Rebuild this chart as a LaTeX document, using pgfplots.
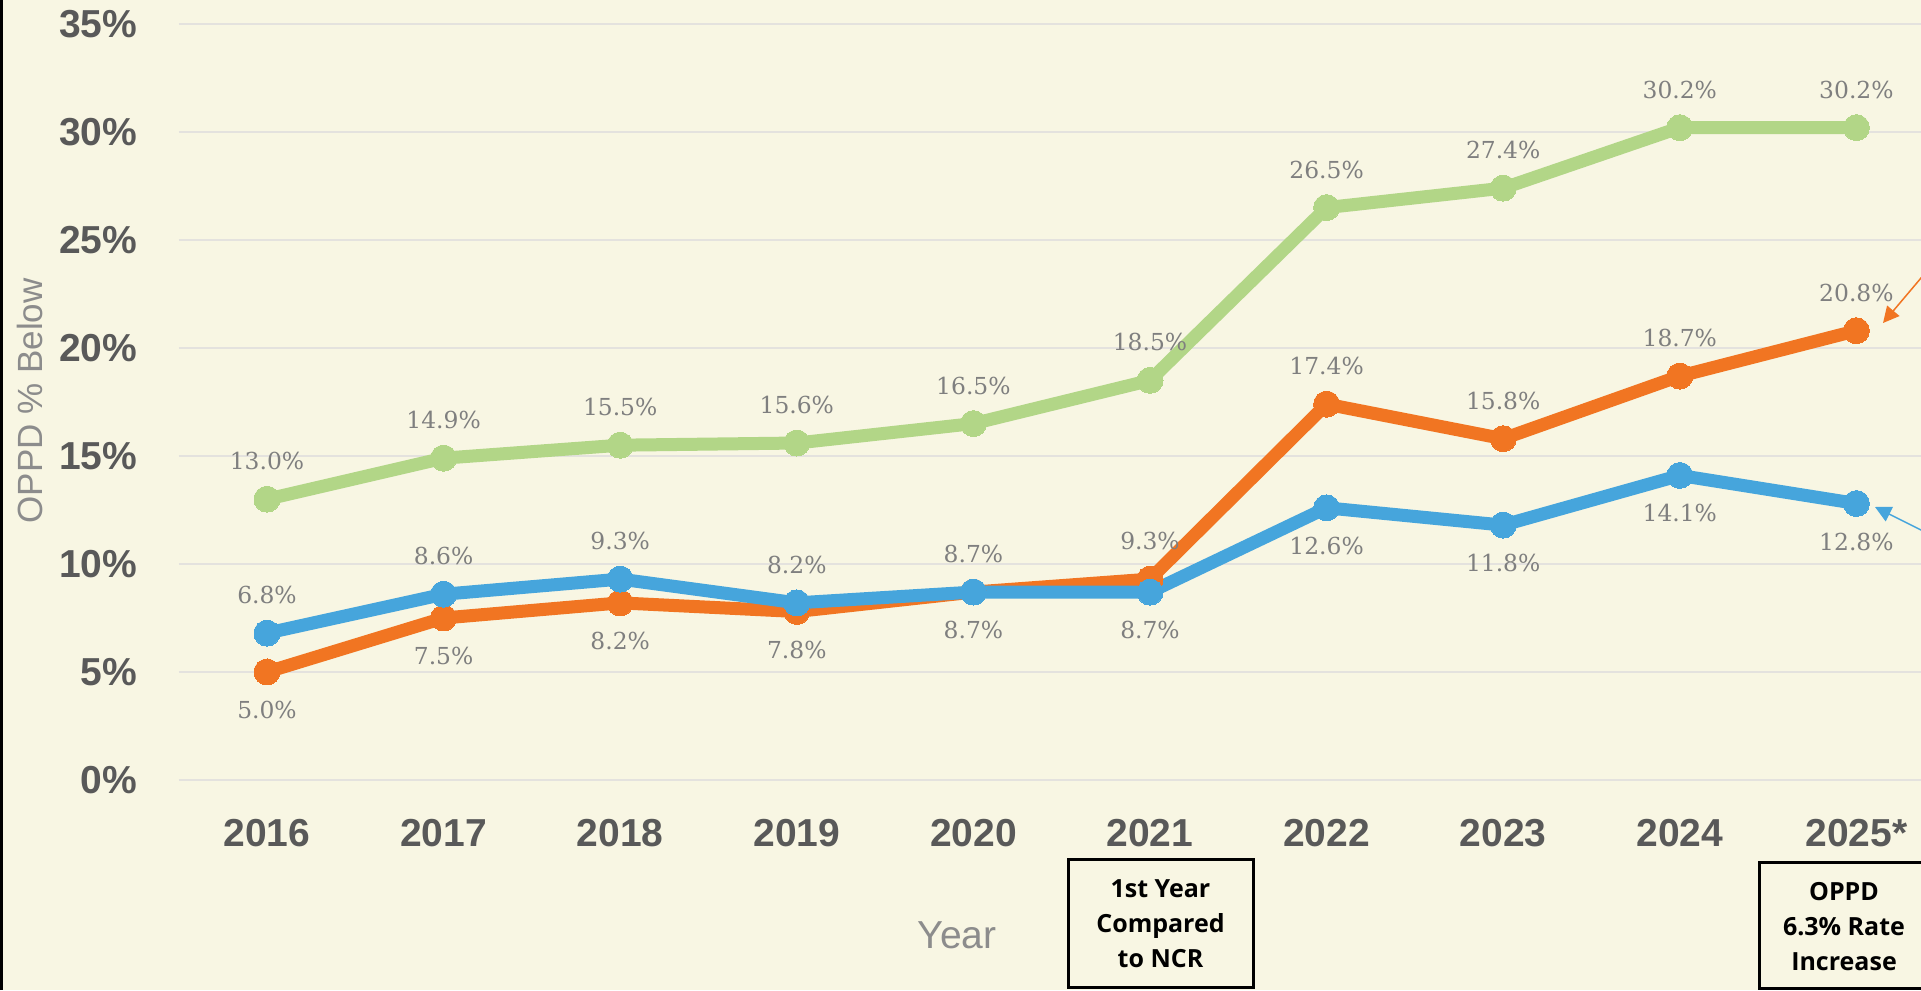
\documentclass[border=0pt]{standalone}
\usepackage{pgfplots}
\pgfplotsset{compat=1.18}
\usepackage{pgfplotstable}
\usetikzlibrary{arrows.meta}
\usepackage{fontspec}
\setmainfont{Liberation Sans}
\newfontfamily\labelfont{DejaVu Serif}
\newfontfamily\boxfont{Open Sans}
\definecolor{bg}{RGB}{248,246,227}
\definecolor{cgreen}{RGB}{178,214,135}
\definecolor{corange}{RGB}{241,117,34}
\definecolor{cblue}{RGB}{70,165,220}
\definecolor{tickgray}{RGB}{89,89,89}
\definecolor{lblgray}{RGB}{127,127,127}
\definecolor{axgray}{RGB}{140,140,140}
\definecolor{gridc}{RGB}{228,226,222}

\pgfplotstableread{
x y pos
0 13.0 1
1 14.9 1
2 15.5 1
3 15.6 1
4 16.5 1
5 18.5 1
6 26.5 1
7 27.4 1
8 30.2 1
9 30.2 1
}\greendata

\pgfplotstableread{
x y pos
0 5.0 -1
1 7.5 -1
2 8.2 -1
3 7.8 -1
4 8.7 -1
5 9.3 1
6 17.4 1
7 15.8 1
8 18.7 1
9 20.8 1
}\orangedata

\pgfplotstableread{
x y pos
0 6.8 1
1 8.6 1
2 9.3 1
3 8.2 1
4 8.7 1
5 8.7 -1
6 12.6 -1
7 11.8 -1
8 14.1 -1
9 12.8 -1
}\bluedata

\pgfplotsset{
  lbl/.style={
    nodes near coords={\pgfmathprintnumber[fixed,fixed zerofill,precision=1,assume math mode=true]{\pgfplotspointmeta}\%},
    point meta=explicit,
    visualization depends on={\thisrow{pos} \as \lblpos},
    every node near coord/.append style={font=\labelfont\fontsize{11.7}{14}\selectfont, text=lblgray, anchor=center, inner sep=0pt, yshift={\lblpos*19pt}},
  },
}

\begin{document}
\begin{tikzpicture}
\fill[bg] (0,0) rectangle (960.5pt,495pt);
\begin{axis}[
  anchor=origin, at={(133.5pt,105pt)},
  x=88.3pt, y=10.8pt,
  xmin=-0.5, xmax=9.5, ymin=0, ymax=35,
  axis line style={draw=none},
  major tick length=0pt,
  ymajorgrids, grid style={gridc, line width=1pt},
  xtick={0,...,9},
  xticklabels={2016,2017,2018,2019,2020,2021,2022,2023,2024,2025*},
  ytick={0,5,...,35},
  yticklabels={0\%,5\%,10\%,15\%,20\%,25\%,30\%,35\%},
  tick label style={font=\fontsize{19.5}{22}\selectfont\bfseries, text=tickgray},
  xticklabel style={anchor=center, inner sep=0pt, yshift=-26.5pt},
  yticklabel style={anchor=east, inner sep=0pt, xshift=-20.5pt},
  clip=false,
]
\addplot[cgreen, line width=6.5pt, mark=*, mark size=6.5pt, mark options={line width=0pt, fill=cgreen, draw=cgreen}, lbl] table[x=x,y=y,meta=y] {\greendata};
\addplot[corange, line width=6.5pt, mark=*, mark size=6.5pt, mark options={line width=0pt, fill=corange, draw=corange}, lbl] table[x=x,y=y,meta=y] {\orangedata};
\addplot[cblue, line width=6.5pt, mark=*, mark size=6.5pt, mark options={line width=0pt, fill=cblue, draw=cblue}, lbl] table[x=x,y=y,meta=y] {\bluedata};
\end{axis}
% axis titles
\node[rotate=90, font=\fontsize{17.5}{20}\selectfont, text=axgray] at (15pt,294.5pt) {OPPD \% Below};
\node[font=\fontsize{19.5}{22}\selectfont, text=axgray] at (478.5pt,27.5pt) {Year};
% annotation arrows
\draw[corange, line width=0.75pt, -{Triangle[length=8pt,width=8pt]}] (970pt,367.25pt) -- (941.5pt,333.5pt);
\draw[cblue, line width=0.75pt, -{Triangle[length=8pt,width=8pt]}] (970.5pt,225pt) -- (937.5pt,241.5pt);
% annotation boxes
\draw[line width=1.5pt] (534pt,1.5pt) rectangle (626.5pt,65pt);
\node[align=center, font=\boxfont\fontsize{12.5}{17.5}\selectfont\bfseries] at (580.25pt,33.25pt) {1st Year\\Compared\\to NCR};
\draw[line width=1.5pt] (879.5pt,1pt) rectangle (966pt,63.5pt);
\node[align=center, font=\boxfont\fontsize{12.5}{17.5}\selectfont\bfseries] at (922pt,31.5pt) {OPPD\\6.3\% Rate\\Increase};
% left border
\draw[black, line width=1.4pt] (0.7pt,0) -- (0.7pt,495pt);
\pgfresetboundingbox
\path[use as bounding box] (0,0) rectangle (960.5pt,495pt);
\end{tikzpicture}
\end{document}
